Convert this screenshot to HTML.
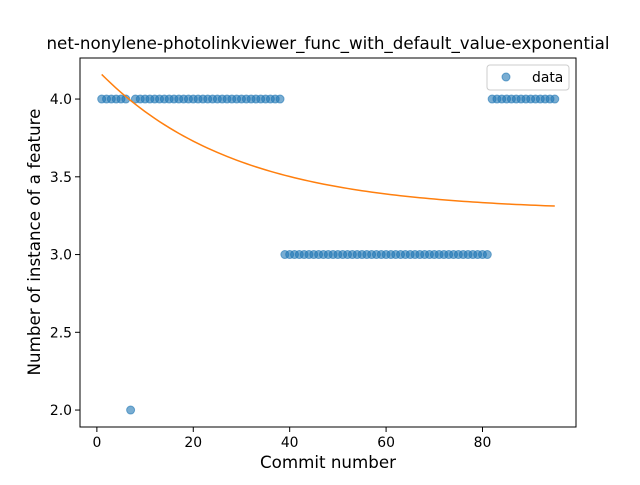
<!DOCTYPE html>
<html><head><meta charset="utf-8"><style>body{margin:0;background:#fff}svg text{font-family:"DejaVu Sans","Liberation Sans",sans-serif}</style></head>
<body>
<svg id="c" width="640" height="480" xmlns="http://www.w3.org/2000/svg"></svg>
<script>
const commits = [];
for (let i = 1; i <= 95; i++) commits.push(i);
const values = [4,4,4,4,4,4,2,4,4,4,4,4,4,4,4,4,4,4,4,4,4,4,4,4,4,4,4,4,4,4,4,4,4,4,4,4,4,4,
3,3,3,3,3,3,3,3,3,3,3,3,3,3,3,3,3,3,3,3,3,3,3,3,3,3,3,3,3,3,3,3,3,3,3,3,3,3,3,3,3,3,3,
4,4,4,4,4,4,4,4,4,4,4,4,4,4];
const fitA = 0.91, fitB = 0.0353, fitC = 3.28;
const xTicks = [0,20,40,60,80];
const yTicks = [2.0,2.5,3.0,3.5,4.0];
const L=80,R=576,T=58,B=427, xMin=-3.5,xMax=99.4,yMin=1.891,yMax=4.264;
const sx=v=>L+(v-xMin)/(xMax-xMin)*(R-L);
const sy=v=>B-(v-yMin)/(yMax-yMin)*(B-T);
const svg=document.getElementById('c');
const NS='http://www.w3.org/2000/svg';
function mk(t,a,txt){const e=document.createElementNS(NS,t);for(const k in a)e.setAttribute(k,a[k]);if(txt!==undefined)e.textContent=txt;svg.appendChild(e);return e;}
let e=mk('rect',{x:L,y:T,width:R-L,height:B-T,fill:'none',stroke:'#000','stroke-width':1});


xTicks.forEach(v=>{const x=sx(v);
 let l=mk('line',{x1:x,x2:x,y1:B,y2:B+5,stroke:'#000'});
 
 
 let t=mk('text',{x:x,y:B+20,'font-size':13.9,'text-anchor':'middle'},String(v));
 
 });
yTicks.forEach(v=>{const y=sy(v);
 let l=mk('line',{x1:L-5,x2:L,y1:y,y2:y,stroke:'#000'});
 
 
 let t=mk('text',{x:L-8,y:y+5,'font-size':13.9,'text-anchor':'end'},v.toFixed(1));
 
 });
commits.forEach((c,i)=>{let p=mk('circle',{cx:sx(c),cy:sy(values[i]),r:4,fill:'#1f77b4','fill-opacity':0.6,stroke:'#1f77b4','stroke-opacity':0.6});
 
 });
let d='';commits.forEach((c,i)=>{const v=fitA*Math.exp(-fitB*c)+fitC;d+=(i?'L':'M')+sx(c).toFixed(2)+','+sy(v).toFixed(2);});
let fl=mk('path',{d:d,fill:'none',stroke:'#ff7f0e','stroke-width':1.5});


let tt=mk('text',{x:328,y:49,'font-size':16.7,'text-anchor':'middle'},'net-nonylene-photolinkviewer_func_with_default_value-exponential');


let xl=mk('text',{x:328,y:468,'font-size':16.7,'text-anchor':'middle'},'Commit number');


let yl=mk('text',{x:0,y:0,'font-size':16.7,'text-anchor':'middle',transform:'translate(40,242) rotate(-90)'},'Number of instance of a feature');


let lg=mk('rect',{x:487,y:65,width:82,height:25,rx:3,fill:'#fff',stroke:'#ccc'});


let lm=mk('circle',{cx:506,cy:77,r:4,fill:'#1f77b4','fill-opacity':0.6,stroke:'#1f77b4','stroke-opacity':0.6});


let lt=mk('text',{x:532,y:82,'font-size':13.9},'data');


</script>
</body></html>
